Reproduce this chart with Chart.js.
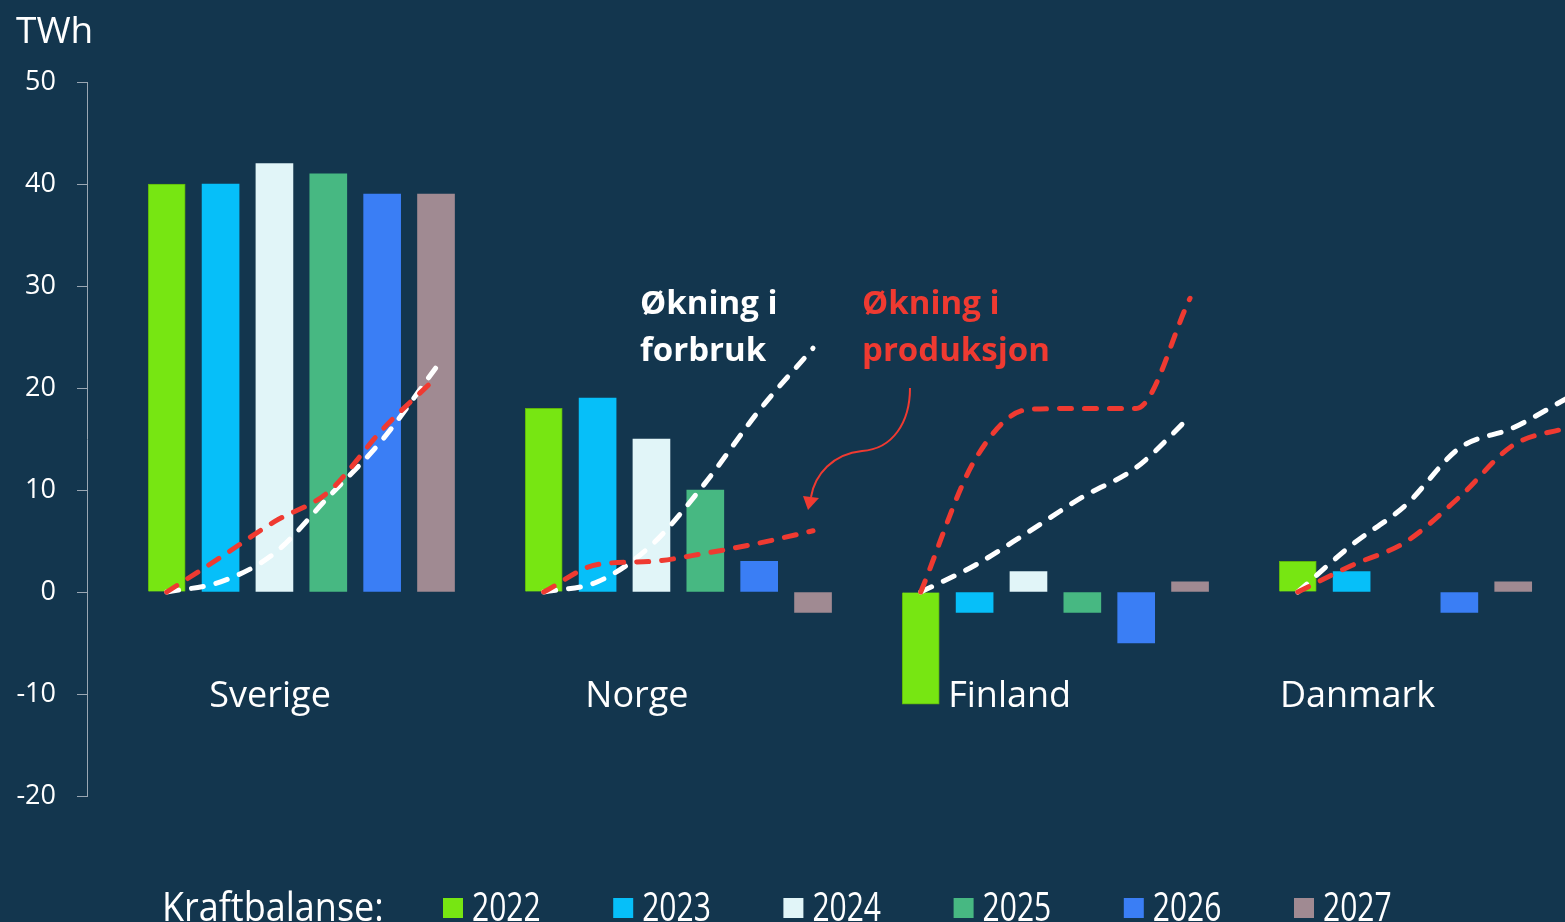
<!DOCTYPE html>
<html>
<head>
<meta charset="utf-8">
<script src="https://cdn.jsdelivr.net/npm/chart.js@4"></script>
<style>
  html, body { margin: 0; padding: 0; background: #13364e; overflow: hidden; }
  #wrap { width: 1600px; height: 922px; }
</style>
</head>
<body>
<div id="wrap"><canvas id="balanceChart" width="1600" height="922"></canvas></div>
<script>
// Kraftbalanse (TWh) per land og år
const countries = ["Sverige", "Norge", "Finland", "Danmark"];
const years = ["2022", "2023", "2024", "2025", "2026", "2027"];
const bal2022 = [40, 18, -11, 3];
const bal2023 = [40, 19, -2, 2];
const bal2024 = [42, 15, 2, 0];
const bal2025 = [41, 10, -2, null];
const bal2026 = [39, 3, -5, -2];
const bal2027 = [39, -2, 1, 1];

// Økning i forbruk / produksjon, TWh (kumulativt, 2022-2027)
const forbrukSverige = [0, 1, 3.8, 9.3, 14.9, 22];
const forbrukNorge = [0, 1, 4.6, 10.7, 17.8, 23.9];
const forbrukFinland = [0, 2.6, 5.9, 9.3, 12.2, 17.2];
const forbrukDanmark = [0, 4.6, 8.5, 14.1, 16.1, 19];
const produksjonSverige = [0, 3.4, 6.9, 9.8, 15.9, 21];
const produksjonNorge = [0, 2.7, 3, 3.8, 4.8, 6];
const produksjonFinland = [0, 12.9, 17.9, 18, 18, 28.8];
const produksjonDanmark = [0, 2.6, 4.9, 9.3, 14.4, 16.1];

const balances = [bal2022, bal2023, bal2024, bal2025, bal2026, bal2027];
const forbruk = [forbrukSverige, forbrukNorge, forbrukFinland, forbrukDanmark];
const produksjon = [produksjonSverige, produksjonNorge, produksjonFinland, produksjonDanmark];

const barColors = ["#77e612", "#06bff9", "#e1f5f8", "#47b882", "#3a7ef5", "#a08a92"];
const RED = "#ef3a31";
const GROUP = 7; // slots per land (6 år + mellomrom)

// bars: each year in its own slot; a missing value takes no slot
const barSets = years.map((yr, i) => ({
  type: "bar",
  label: yr,
  data: [],
  backgroundColor: barColors[i],
  borderColor: i === 0 ? "#5fb40c" : barColors[i],
  borderWidth: i === 0 ? 1 : 0,
  barThickness: 37,
  grouped: false,
  order: 2,
}));
countries.forEach((c, ci) => {
  let k = 0;
  years.forEach((yr, yi) => {
    const v = balances[yi][ci];
    if (v === null) return;
    if (v !== 0) barSets[yi].data.push({ x: ci * GROUP + k + 1, y: v });
    k++;
  });
});

function linePoints(series) {
  const pts = [];
  series.forEach((vals, ci) => {
    vals.forEach((v, i) => pts.push({ x: ci * GROUP + i + 1, y: v }));
    pts.push({ x: ci * GROUP + GROUP, y: null });
  });
  return pts;
}

const lineBase = {
  type: "line",
  borderWidth: 5,
  borderDash: [12, 13],
  borderCapStyle: "round",
  pointRadius: 0,
  cubicInterpolationMode: "monotone",
  fill: false,
  spanGaps: false,
  clip: false,
  order: 1,
};
const lineSets = [
  Object.assign({}, lineBase, { label: "Økning i produksjon", data: linePoints(produksjon), borderColor: RED }),
  Object.assign({}, lineBase, { label: "Økning i forbruk", data: linePoints(forbruk), borderColor: "#ffffff" }),
];

// label anchors (x in slot units, y in TWh)
const countryLabelX = [2.92, 9.73, 16.65, 23.11];
const countryLabelY = -10;

const decor = {
  id: "decor",
  afterDraw(chart) {
    const { ctx, scales } = chart;
    ctx.save();
    ctx.fillStyle = "#ffffff";
    ctx.textBaseline = "alphabetic";

    // unit
    ctx.font = "37px 'Open Sans'";
    ctx.textAlign = "left";
    ctx.fillText("TWh", 16, 43);

    // country names
    ctx.font = "36px 'Open Sans'";
    ctx.textAlign = "center";
    countries.forEach((c, i) => {
      ctx.fillText(c, scales.x.getPixelForValue(countryLabelX[i]), scales.y.getPixelForValue(countryLabelY) + 13);
    });

    // annotations
    ctx.font = "bold 33px 'Open Sans'";
    ctx.textAlign = "left";
    ctx.fillText("Økning i", 640, 314);
    ctx.fillText("forbruk", 640, 361);
    ctx.fillStyle = RED;
    ctx.fillText("Økning i", 862, 314);
    ctx.fillText("produksjon", 862, 361);

    // arrow
    ctx.strokeStyle = RED;
    ctx.lineWidth = 2;
    ctx.beginPath();
    ctx.moveTo(910, 388);
    ctx.bezierCurveTo(910, 422, 893, 449, 862, 451);
    ctx.bezierCurveTo(833, 454, 815, 474, 811, 497);
    ctx.stroke();
    ctx.fillStyle = RED;
    ctx.beginPath();
    ctx.moveTo(808, 510);
    ctx.lineTo(803, 496);
    ctx.lineTo(819, 498);
    ctx.closePath();
    ctx.fill();

    // legend
    ctx.fillStyle = "#ffffff";
    ctx.font = "40px 'Open Sans'";
    ctx.save();
    ctx.translate(162, 921);
    ctx.scale(0.9, 1);
    ctx.fillText("Kraftbalanse:", 0, 0);
    ctx.restore();
    years.forEach((yr, i) => {
      const x0 = 443 + i * 170.2;
      ctx.fillStyle = barColors[i];
      ctx.fillRect(x0, 898, 20, 20);
      ctx.fillStyle = "#ffffff";
      ctx.save();
      ctx.translate(x0 + 29, 921);
      ctx.scale(0.75, 1);
      ctx.fillText(yr, 0, 0);
      ctx.restore();
    });
    ctx.restore();
  },
};

const chartCtx = document.getElementById("balanceChart").getContext("2d");
new Chart(chartCtx, {
  type: "bar",
  data: { datasets: [...barSets, ...lineSets] },
  options: {
    responsive: false,
    animation: false,
    layout: { padding: { top: 82, bottom: 126, left: 0, right: 6 } },
    plugins: { legend: { display: false }, tooltip: { enabled: false } },
    scales: {
      x: { type: "linear", min: -0.48, max: 27.5, offset: false, display: false },
      y: {
        min: -20,
        max: 50,
        ticks: { stepSize: 10, color: "#ffffff", padding: 21, font: { family: "Open Sans", size: 27 } },
        grid: { drawOnChartArea: false, tickLength: 10, color: "#9aa7b3" },
        border: { color: "#9aa7b3", width: 1 },
        afterFit(scale) { scale.width = 87; },
      },
    },
  },
  plugins: [decor],
});
</script>
</body>
</html>
